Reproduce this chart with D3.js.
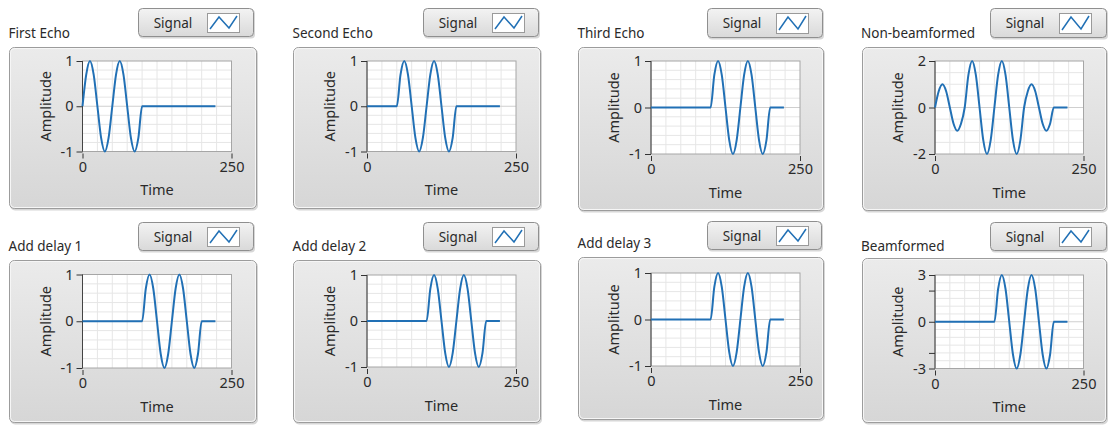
<!DOCTYPE html>
<html>
<head>
<meta charset="utf-8">
<script src="https://cdn.jsdelivr.net/npm/d3@7"></script>
<style>
  body { margin: 0; background: #fff; }
  svg text { font-family: "Noto Sans", "DejaVu Sans", sans-serif; fill: #2a2a2a; }
</style>
</head>
<body>
<svg id="chart" width="1109" height="425"></svg>
<script>
// chart titles, in panel order
const titles = ["First Echo", "Second Echo", "Third Echo", "Non-beamformed",
                "Add delay 1", "Add delay 2", "Add delay 3", "Beamformed"];
const legendLabel = "Signal";
const xLabel = "Time";
const yLabel = "Amplitude";
const timeTicks = [0, 250];
const yLimits = [1, 1, 1, 2, 1, 1, 1, 3];

// sample times (shared by all series)
const time = [0, 6.25, 12.5, 18.75, 25, 31.25, 37.5, 43.75, 50, 56.25, 62.5, 68.75, 75, 81.25, 87.5, 93.75,
              100, 106.25, 112.5, 118.75, 125, 131.25, 137.5, 143.75, 150, 156.25, 162.5, 168.75, 175, 181.25, 187.5, 193.75,
              200, 223];

const firstEcho  = [0, .7, 1, .7, 0, -.7, -1, -.7, 0, .7, 1, .7, 0, -.7, -1, -.7,
                    0, 0, 0, 0, 0, 0, 0, 0, 0, 0, 0, 0, 0, 0, 0, 0, 0, 0];
const secondEcho = [0, 0, 0, 0, 0, 0, 0, 0, 0, .7, 1, .7, 0, -.7, -1, -.7,
                    0, .7, 1, .7, 0, -.7, -1, -.7, 0, 0, 0, 0, 0, 0, 0, 0, 0, 0];
const thirdEcho  = [0, 0, 0, 0, 0, 0, 0, 0, 0, 0, 0, 0, 0, 0, 0, 0,
                    0, .7, 1, .7, 0, -.7, -1, -.7, 0, .7, 1, .7, 0, -.7, -1, -.7, 0, 0];
const nonBeamformed = [0, .7, 1, .7, 0, -.7, -1, -.7, 0, 1.4, 2, 1.4, 0, -1.4, -2, -1.4,
                       0, 1.4, 2, 1.4, 0, -1.4, -2, -1.4, 0, .7, 1, .7, 0, -.7, -1, -.7, 0, 0];
const delay1 = [0, 0, 0, 0, 0, 0, 0, 0, 0, 0, 0, 0, 0, 0, 0, 0,
                0, .7, 1, .7, 0, -.7, -1, -.7, 0, .7, 1, .7, 0, -.7, -1, -.7, 0, 0];
const delay2 = [0, 0, 0, 0, 0, 0, 0, 0, 0, 0, 0, 0, 0, 0, 0, 0,
                0, .7, 1, .7, 0, -.7, -1, -.7, 0, .7, 1, .7, 0, -.7, -1, -.7, 0, 0];
const delay3 = [0, 0, 0, 0, 0, 0, 0, 0, 0, 0, 0, 0, 0, 0, 0, 0,
                0, .7, 1, .7, 0, -.7, -1, -.7, 0, .7, 1, .7, 0, -.7, -1, -.7, 0, 0];
const beamformed = [0, 0, 0, 0, 0, 0, 0, 0, 0, 0, 0, 0, 0, 0, 0, 0,
                    0, 2.1, 3, 2.1, 0, -2.1, -3, -2.1, 0, 2.1, 3, 2.1, 0, -2.1, -3, -2.1, 0, 0];

const series = [firstEcho, secondEcho, thirdEcho, nonBeamformed, delay1, delay2, delay3, beamformed];

// panel geometry (frame, plot area, legend button, title)
const layout = [
  {fx: 9,   fy: 47,  fw: 248, fh: 162, px: 82.5, py: 61,    pw: 149,   ph: 90.5, lx: 138, ly: 8,   lw: 116, lh: 29, tx: 8.5,   ty: 37.5},
  {fx: 293, fy: 47,  fw: 248, fh: 162, px: 367,  py: 61,    pw: 149,   ph: 90.5, lx: 423, ly: 8,   lw: 116, lh: 29, tx: 292.5, ty: 37.5},
  {fx: 578, fy: 47,  fw: 246, fh: 164, px: 651,  py: 61,    pw: 149,   ph: 93,   lx: 707, ly: 8,   lw: 116, lh: 30, tx: 577.5, ty: 37.5},
  {fx: 862, fy: 47,  fw: 245, fh: 164, px: 935,  py: 61,    pw: 148.5, ph: 93,   lx: 990, ly: 8,   lw: 117, lh: 30, tx: 861,   ty: 37.5},
  {fx: 9,   fy: 260, fw: 248, fh: 163, px: 82.5, py: 274.5, pw: 149,   ph: 93.5, lx: 138, ly: 222, lw: 116, lh: 29, tx: 8.5,   ty: 251},
  {fx: 293, fy: 260, fw: 248, fh: 163, px: 367,  py: 275,   pw: 149,   ph: 92,   lx: 423, ly: 222, lw: 116, lh: 29, tx: 292.5, ty: 251},
  {fx: 578, fy: 257, fw: 246, fh: 163, px: 651,  py: 273,   pw: 149,   ph: 93,   lx: 707, ly: 221, lw: 115, lh: 29, tx: 577.5, ty: 248},
  {fx: 862, fy: 258, fw: 245, fh: 165, px: 935,  py: 275,   pw: 148.5, ph: 93.5, lx: 990, ly: 222, lw: 117, lh: 29, tx: 861,   ty: 251}
];

const lineColor = "#2170b5";
const svg = d3.select("#chart");

const defs = svg.append("defs");
let g1 = defs.append("linearGradient").attr("id", "frameGrad").attr("x1", 0).attr("y1", 0).attr("x2", 0).attr("y2", 1);
g1.append("stop").attr("offset", "0%").attr("stop-color", "#ebebeb");
g1.append("stop").attr("offset", "100%").attr("stop-color", "#d6d6d6");
let g2 = defs.append("linearGradient").attr("id", "btnGrad").attr("x1", 0).attr("y1", 0).attr("x2", 0).attr("y2", 1);
g2.append("stop").attr("offset", "0%").attr("stop-color", "#f3f3f3");
g2.append("stop").attr("offset", "100%").attr("stop-color", "#d9d9d9");

titles.forEach(function(title, i) {
    let L = layout[i];
    let lim = yLimits[i];
    let g = svg.append("g");

    // frame with a soft shadow
    g.append("rect").attr("x", L.fx + 1).attr("y", L.fy + 1.5).attr("width", L.fw).attr("height", L.fh)
        .attr("rx", 5).attr("fill", "#bdbdbd").attr("opacity", 0.6);
    g.append("rect").attr("x", L.fx + 0.5).attr("y", L.fy + 0.5).attr("width", L.fw - 1).attr("height", L.fh - 1)
        .attr("rx", 5).attr("fill", "url(#frameGrad)").attr("stroke", "#9c9c9c");
    g.append("rect").attr("x", L.fx + 1.5).attr("y", L.fy + 1.5).attr("width", L.fw - 3).attr("height", L.fh - 3)
        .attr("rx", 4).attr("fill", "none").attr("stroke", "#f6f6f6").attr("stroke-width", 1);

    // title
    g.append("text").attr("x", L.tx).attr("y", L.ty).attr("font-size", "13.5px").text(title);

    // legend button
    g.append("rect").attr("x", L.lx + 1).attr("y", L.ly + 1.5).attr("width", L.lw).attr("height", L.lh)
        .attr("rx", 4).attr("fill", "#bcbcbc").attr("opacity", 0.6);
    g.append("rect").attr("x", L.lx + 0.5).attr("y", L.ly + 0.5).attr("width", L.lw - 1).attr("height", L.lh - 1)
        .attr("rx", 4).attr("fill", "url(#btnGrad)").attr("stroke", "#8f8f8f");
    g.append("text").attr("x", L.lx + 35).attr("y", L.ly + L.lh / 2 + 5).attr("text-anchor", "middle")
        .attr("font-size", "13.5px").text(legendLabel);
    let sx = L.lx + 69, sy = L.ly + 5, sw = 32, sh = L.lh - 10;
    g.append("rect").attr("x", sx + 0.5).attr("y", sy + 0.5).attr("width", sw).attr("height", sh)
        .attr("fill", "#fff").attr("stroke", "#9a9a9a");
    g.append("polyline")
        .attr("points", [[sx + 3, sy + sh - 3], [sx + 12, sy + 4], [sx + 22, sy + sh - 4], [sx + sw - 2, sy + 3]].join(" "))
        .attr("fill", "none").attr("stroke", lineColor).attr("stroke-width", 1.5);

    // scales
    let x = d3.scaleLinear().domain([0, 250]).range([L.px, L.px + L.pw]);
    let y = d3.scaleLinear().domain([-lim, lim]).range([L.py + L.ph, L.py]);

    // plot area + grid
    g.append("rect").attr("x", L.px).attr("y", L.py).attr("width", L.pw).attr("height", L.ph).attr("fill", "#fff");
    let step = lim === 1 ? 0.2 : 0.5;
    g.selectAll("line.vgrid").data(d3.range(25, 250, 25)).enter().append("line")
        .attr("x1", d => x(d)).attr("x2", d => x(d)).attr("y1", L.py).attr("y2", L.py + L.ph)
        .attr("stroke", "#e6e6e6");
    g.selectAll("line.hgrid").data(d3.range(-lim + step, lim - step / 2, step)).enter().append("line")
        .attr("x1", L.px).attr("x2", L.px + L.pw).attr("y1", d => y(d)).attr("y2", d => y(d))
        .attr("stroke", d => Math.abs(d) < 1e-6 ? "#cfcfcf" : "#e6e6e6");
    g.append("rect").attr("x", L.px).attr("y", L.py).attr("width", L.pw).attr("height", L.ph)
        .attr("fill", "none").attr("stroke", "#a6a6a6");
    g.append("line").attr("x1", L.px).attr("x2", L.px).attr("y1", L.py).attr("y2", L.py + L.ph)
        .attr("stroke", "#444");

    // y axis
    let yTicks = lim === 3 ? [3, 2, 0, -2, -3] : [lim, 0, -lim];
    let yAxis = g.append("g").attr("transform", "translate(" + L.px + ",0)")
        .call(d3.axisLeft(y).tickValues(yTicks).tickSize(6).tickPadding(3)
            .tickFormat(d => (lim === 3 && Math.abs(d) === 2) ? "" : String(d)));
    yAxis.select(".domain").remove();
    yAxis.selectAll("line").attr("stroke", "#333");
    yAxis.selectAll("text").attr("font-size", "14.5px").attr("font-family", null).attr("fill", "#2a2a2a");

    // x axis
    let xAxis = g.append("g").attr("transform", "translate(0," + (L.py + L.ph + 2) + ")")
        .call(d3.axisBottom(x).tickValues(timeTicks).tickSize(5).tickPadding(3).tickFormat(d => String(d)));
    xAxis.select(".domain").remove();
    xAxis.selectAll("line").attr("stroke", "#333");
    xAxis.selectAll("text").attr("font-size", "14.5px").attr("font-family", null).attr("fill", "#2a2a2a");

    // axis titles
    g.append("text").attr("x", L.px + L.pw / 2).attr("y", L.py + L.ph + 43.5).attr("text-anchor", "middle")
        .attr("font-size", "14.5px").text(xLabel);
    g.append("text")
        .attr("transform", "translate(" + (L.px - 32) + "," + (L.py + L.ph / 2) + ") rotate(-90)")
        .attr("text-anchor", "middle").attr("font-size", "14.5px").text(yLabel);

    // signal
    let line = d3.line().x(d => x(d[0])).y(d => y(d[1])).curve(d3.curveMonotoneX);
    g.append("path").datum(d3.zip(time, series[i]))
        .attr("d", line).attr("fill", "none").attr("stroke", lineColor).attr("stroke-width", 2);
});
</script>
</body>
</html>
